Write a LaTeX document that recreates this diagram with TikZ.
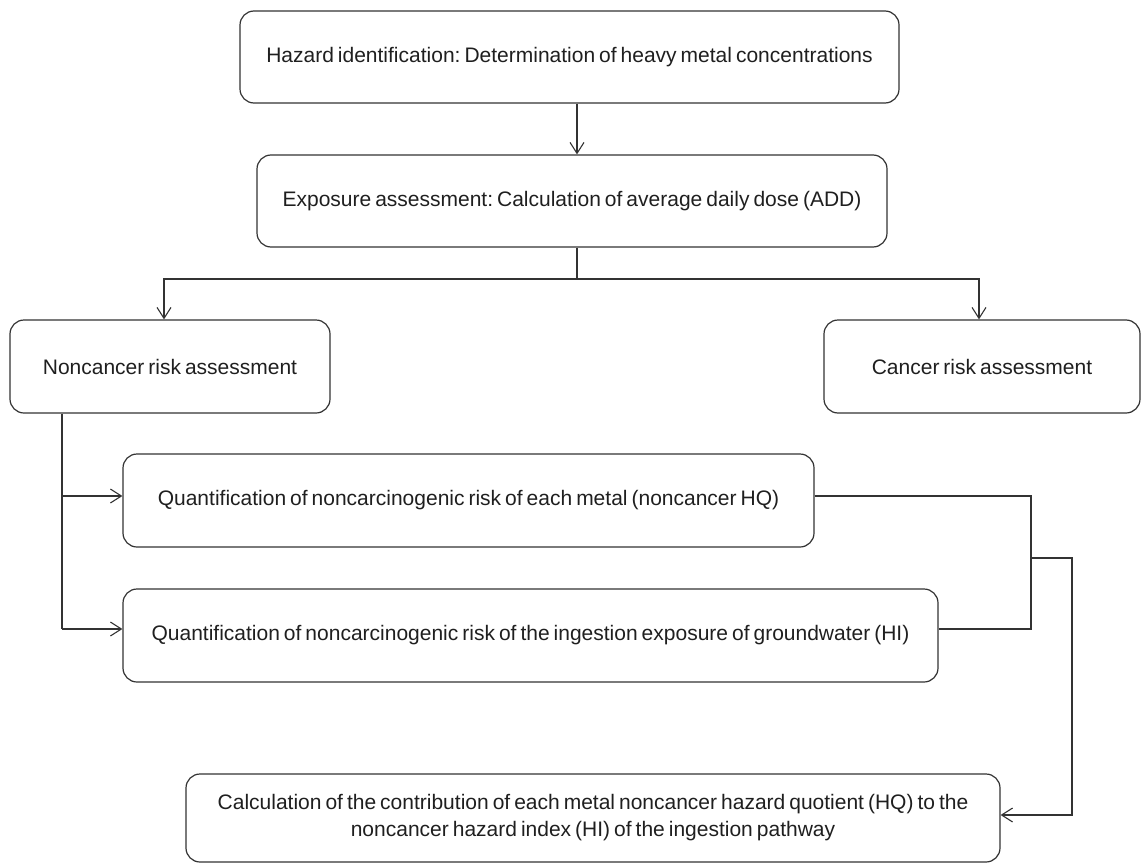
\documentclass[tikz,border=0pt]{standalone}
\usepackage{fontspec}
\setmainfont{Liberation Sans}
\usetikzlibrary{arrows.meta}
\newcommand{\myboxfont}{\fontsize{21}{27}\selectfont\frenchspacing\spaceskip=0.19em plus 0.05em minus 0.05em\relax\xspaceskip=0.19em\relax}
\begin{document}
\begin{tikzpicture}[x=1pt,y=-1pt,
  box/.style={draw=black!80,line width=1.2pt,rounded corners=14pt,align=center,
    inner sep=0pt,font=\myboxfont,text=black!88},
  conn/.style={draw=black!80,line width=1.2pt},
  arr/.style={conn,-{Straight Barb[length=11pt,width=14pt,line width=1.1pt]}}]
\useasboundingbox (0,0) rectangle (1142,864);
\node[box,minimum width=659pt,minimum height=92pt] (b1) at (569.5,57) {Hazard identification: Determination of heavy metal concentrations};
\node[box,minimum width=630pt,minimum height=92pt] (b2) at (572,201) {Exposure assessment: Calculation of average daily dose (ADD)};
\node[box,minimum width=320pt,minimum height=93pt] (b3) at (170,366.5) {Noncancer risk assessment};
\node[box,minimum width=316pt,minimum height=93pt] (b4) at (982,366.5) {Cancer risk assessment};
\node[box,minimum width=691pt,minimum height=93pt] (b5) at (468.5,500.5) {Quantification of noncarcinogenic risk of each metal (noncancer HQ)};
\node[box,minimum width=815pt,minimum height=93pt] (b6) at (530.5,635.5) {Quantification of noncarcinogenic risk of the ingestion exposure of groundwater (HI)};
\node[box,minimum width=814pt,minimum height=88pt] (b7) at (593,818) {Calculation of the contribution of each metal noncancer hazard quotient (HQ) to the\\noncancer hazard index (HI) of the ingestion pathway};
% helper coordinates
\coordinate (xa) at (577,0);
\coordinate (j1) at (577,279);
\coordinate (xl) at (164,0);
\coordinate (xr) at (979,0);
\coordinate (xs) at (62,0);
\coordinate (y5) at (0,496);
\coordinate (y6) at (0,629);
\coordinate (xm) at (1031,0);
\coordinate (ym) at (0,558);
\coordinate (xo) at (1072,0);
\coordinate (y7) at (0,815);
% connectors
\draw[arr] (b1.south -| xa) -- (b2.north -| xa);
\draw[conn] (b2.south -| xa) -- (j1);
\draw[arr] (j1) -| (b3.north -| xl);
\draw[arr] (j1) -| (b4.north -| xr);
\draw[conn] (b3.south -| xs) -- (xs |- y6);
\draw[arr] (xs |- y5) -- (b5.west |- y5);
\draw[arr] (xs |- y6) -- (b6.west |- y6);
\draw[conn] (b5.east |- y5) -| (xm |- y6) -- (b6.east |- y6);
\draw[arr] (xm |- ym) -| (xo |- y7) -- (b7.east |- y7);
\end{tikzpicture}
\end{document}
